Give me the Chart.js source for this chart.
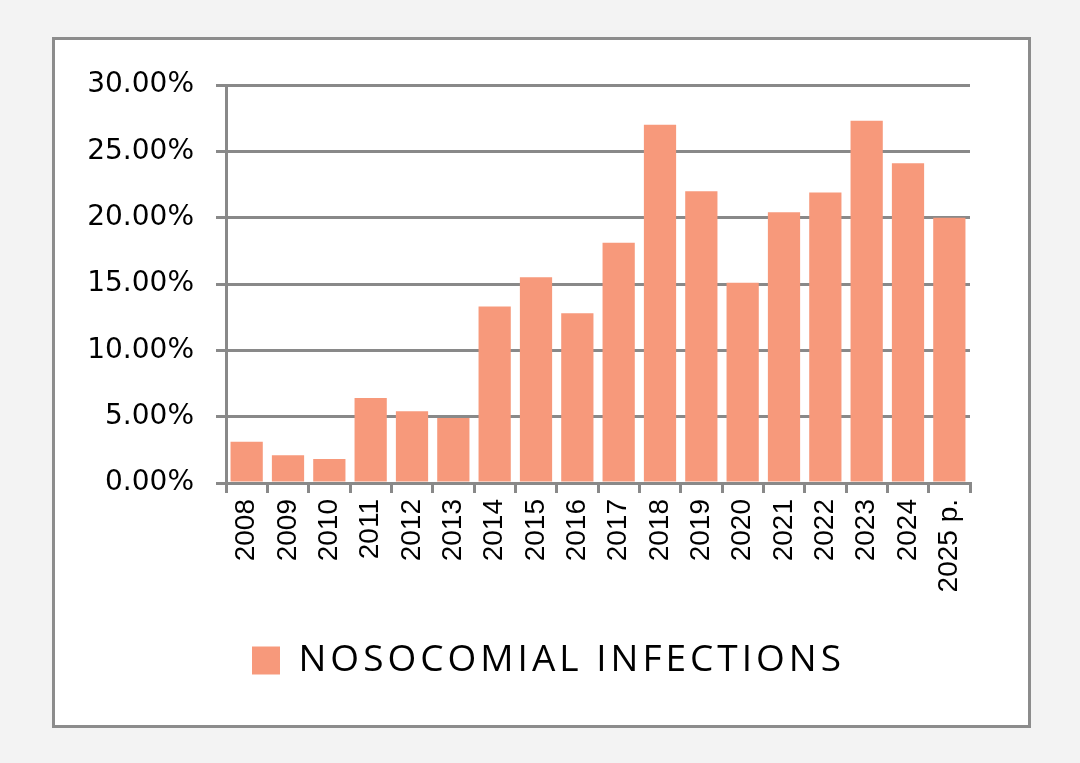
<!DOCTYPE html>
<html>
<head>
<meta charset="utf-8">
<script src="https://cdn.jsdelivr.net/npm/chart.js@4/dist/chart.umd.min.js"></script>
<style>
  html, body { margin: 0; padding: 0; background: #f3f3f3; }
  body { width: 1080px; height: 763px; position: relative; overflow: hidden; }
  #box {
    position: absolute; left: 52px; top: 37px;
    width: 973px; height: 685px;
    border: 3px solid #8c8c8c; background: #ffffff;
  }
  #box canvas { display: block; }
</style>
</head>
<body>
<div id="box"><canvas id="infChart" width="973" height="685"></canvas></div>
<script>
const years = ['2008', '2009', '2010', '2011', '2012', '2013', '2014', '2015', '2016',
               '2017', '2018', '2019', '2020', '2021', '2022', '2023', '2024', '2025 p.'];
const infections = [3.1, 2.1, 1.8, 6.4, 5.4, 4.9, 13.3, 15.5, 12.8,
                    18.1, 27.0, 22.0, 15.1, 20.4, 21.9, 27.3, 24.1, 20.0];
const seriesName = 'NOSOCOMIAL INFECTIONS';
const yMax = 30;
const yStep = 5;

const gridGray = '#898989';
const legendSpacing = '4px';   // legend text in the original is very wide
const legendShift = 36;

const ctx = document.getElementById('infChart').getContext('2d');
const chart = new Chart(ctx, {
    type: 'bar',
    data: {
        labels: years,
        datasets: [{
            label: seriesName,
            data: infections,
            backgroundColor: '#f7997b',
            borderWidth: 0,
            barPercentage: 0.78,
            categoryPercentage: 1.0
        }]
    },
    options: {
        responsive: false,
        animation: false,
        layout: { padding: { top: 45, right: 58, bottom: 36, left: 0 } },
        plugins: {
            tooltip: { enabled: false },
            legend: {
                position: 'bottom',
                labels: {
                    color: '#000',
                    font: { family: '"Open Sans", Lato, sans-serif', size: 37 },
                    boxWidth: 28, boxHeight: 28,
                    padding: 8
                }
            }
        },
        scales: {
            x: {
                offset: true,
                grid: { offset: true, drawOnChartArea: false, color: gridGray, lineWidth: 3, tickLength: 10 },
                border: { color: gridGray, width: 3 },
                ticks: {
                    color: '#000', minRotation: 90, maxRotation: 90, autoSkip: false, padding: 6,
                    font: { family: '"Liberation Sans", Arial, sans-serif', size: 28 }
                },
                afterFit: s => { s.height = 151; }
            },
            y: {
                min: 0, max: yMax,
                grid: { color: gridGray, lineWidth: 3, tickLength: 10 },
                border: { color: gridGray, width: 3 },
                ticks: {
                    stepSize: yStep, color: '#000', padding: 22,
                    font: { family: '"DejaVu Sans", Verdana, sans-serif', size: 28 },
                    callback: v => v.toFixed(2) + '%'
                },
                afterFit: s => { s.width = 171; }
            }
        }
    }
});

// widen the legend text like in the picture
const lg = chart.legend;
const origFit = lg.fit;
const origDraw = lg.draw;
lg.fit = function () {
    ctx.letterSpacing = legendSpacing;
    origFit.apply(this, arguments);
    ctx.letterSpacing = '0px';
};
lg.draw = function () {
    ctx.save();
    ctx.letterSpacing = legendSpacing;
    ctx.translate(legendShift, 0);
    origDraw.apply(this, arguments);
    ctx.restore();
    ctx.letterSpacing = '0px';
};
chart.update();
</script>
</body>
</html>
